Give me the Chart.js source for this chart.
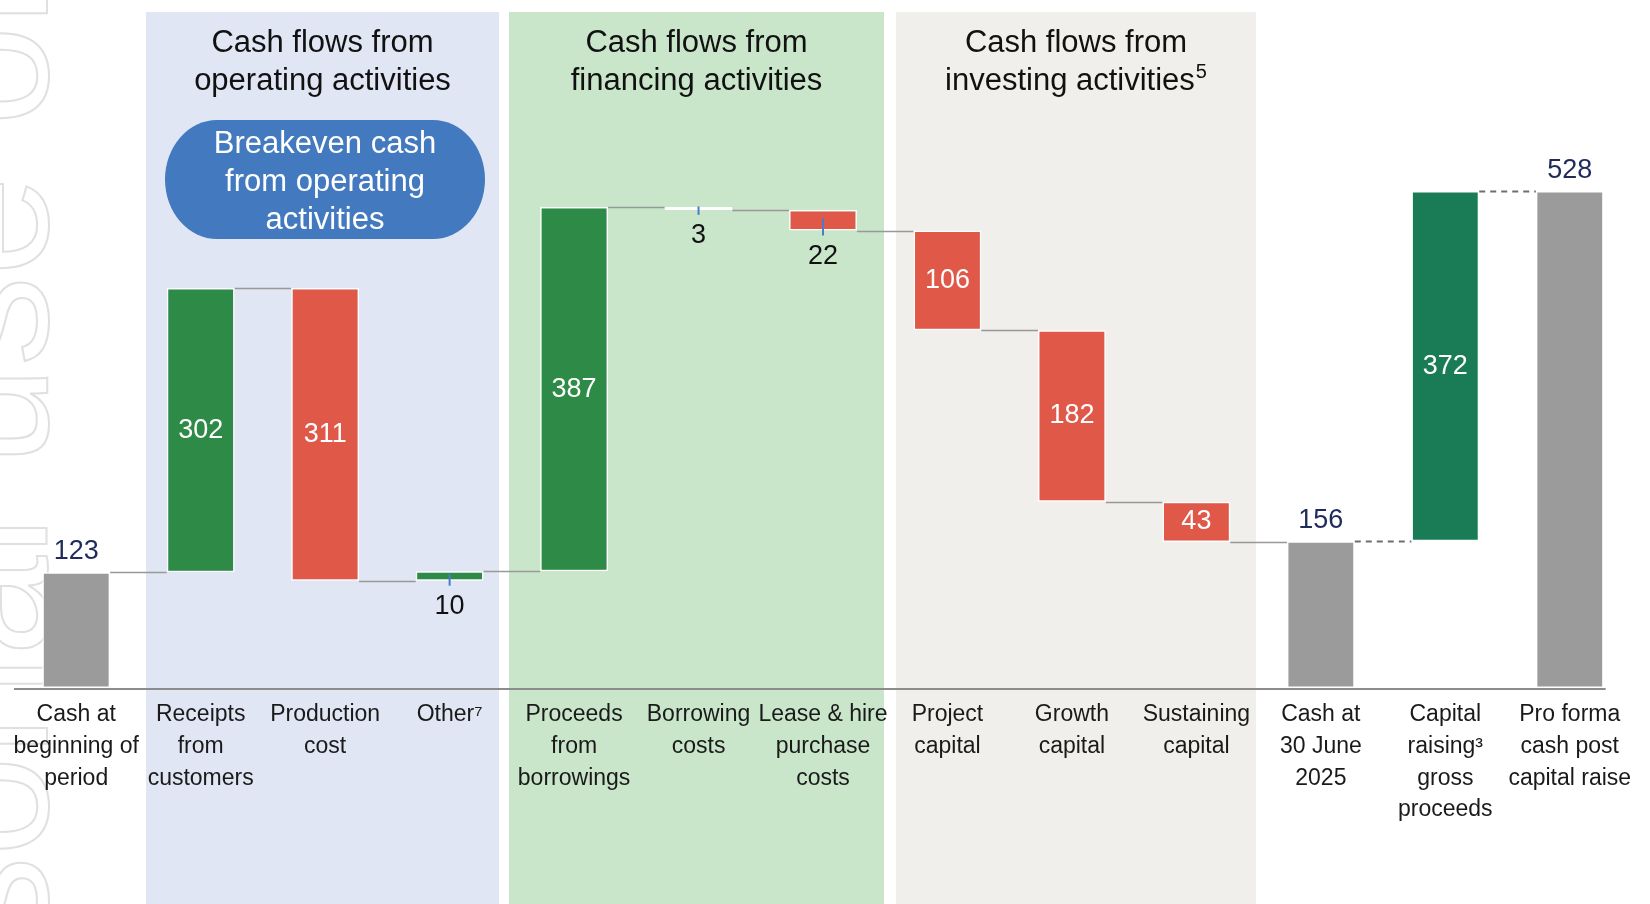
<!DOCTYPE html>
<html>
<head>
<meta charset="utf-8">
<script src="https://cdn.jsdelivr.net/npm/chart.js@4.4.0/dist/chart.umd.min.js"></script>
<style>
  html, body { margin: 0; padding: 0; background: #ffffff; }
  #wrap { width: 1650px; height: 904px; position: relative; }
  canvas { display: block; }
</style>
</head>
<body>
<div id="wrap"><canvas id="chart" width="1650" height="904"></canvas></div>
<script>
// ---------------- DATA ----------------
const categories = [
  ["Cash at", "beginning of", "period"],
  ["Receipts", "from", "customers"],
  ["Production", "cost"],
  ["Other\u2077"],
  ["Proceeds", "from", "borrowings"],
  ["Borrowing", "costs"],
  ["Lease & hire", "purchase", "costs"],
  ["Project", "capital"],
  ["Growth", "capital"],
  ["Sustaining", "capital"],
  ["Cash at", "30 June", "2025"],
  ["Capital", "raising\u00B3", "gross", "proceeds"],
  ["Pro forma", "cash post", "capital raise"]
];
const changes = [123, 302, -311, 10, 387, -3, -22, -106, -182, -43, 156, 372, 528];
const barTypes = ["total", "increase", "decrease", "increase", "increase", "decrease",
                  "decrease", "decrease", "decrease", "decrease", "total", "raise", "total"];
const sectionTitles = [
  ["Cash flows from", "operating activities"],
  ["Cash flows from", "financing activities"],
  ["Cash flows from", "investing activities"]
];
const sectionSuperscripts = ["", "", "5"];
const calloutLines = ["Breakeven cash", "from operating", "activities"];
const watermarkText = "For personal use only";

// ---------------- DERIVED (floating bars) ----------------
const floating = [];
let running = 0;
changes.forEach((v, i) => {
  if (barTypes[i] === "total") { floating.push([0, v]); running = v; }
  else { floating.push([running, running + v]); running += v; }
});

// ---------------- STYLE ----------------
const FONT = "'Liberation Sans', Arial, Helvetica, sans-serif";
const typeColors = { total: "#9B9B9B", increase: "#2E8B47", decrease: "#E05848", raise: "#1A7C57" };
const bands = [
  { x0: 146, x1: 499, color: "#E0E6F4" },
  { x0: 509, x1: 884, color: "#C9E6CB" },
  { x0: 896, x1: 1256, color: "#F0EFEB" }
];

const decorPlugin = {
  id: "decor",
  beforeDraw(chart) {
    const ctx = chart.ctx;
    ctx.save();
    ctx.fillStyle = "#ffffff";
    ctx.fillRect(0, 0, chart.width, chart.height);
    // bands
    bands.forEach(b => { ctx.fillStyle = b.color; ctx.fillRect(b.x0, 12, b.x1 - b.x0, chart.height - 12); });
    // watermark
    ctx.font = "180px " + FONT;
    const wPre = ctx.measureText("For personal ").width;
    ctx.translate(47, 466 + wPre);
    ctx.rotate(-Math.PI / 2);
    ctx.strokeStyle = "#E0E0E0";
    ctx.lineWidth = 2;
    ctx.textAlign = "left";
    ctx.textBaseline = "alphabetic";
    ctx.strokeText(watermarkText, 0, 0);
    ctx.restore();

    // section titles
    ctx.save();
    ctx.fillStyle = "#111111";
    ctx.textBaseline = "middle";
    sectionTitles.forEach((lines, k) => {
      const cx = (bands[k].x0 + bands[k].x1) / 2;
      lines.forEach((t, j) => {
        const y = 43 + j * 38;
        ctx.font = "31px " + FONT;
        const sup = (j === lines.length - 1) ? sectionSuperscripts[k] : "";
        const wMain = ctx.measureText(t).width;
        ctx.font = "20px " + FONT;
        const wSup = sup ? ctx.measureText(sup).width + 1 : 0;
        const x0 = cx - (wMain + wSup) / 2;
        ctx.font = "31px " + FONT;
        ctx.textAlign = "left";
        ctx.fillText(t, x0, y);
        if (sup) { ctx.font = "20px " + FONT; ctx.fillText(sup, x0 + wMain + 1, y - 9); }
      });
    });
    // callout bubble
    const bx0 = 165, bx1 = 485, by0 = 120, by1 = 239, rx = 52;
    const ry = (by1 - by0) / 2, cy = (by0 + by1) / 2;
    ctx.beginPath();
    ctx.moveTo(bx0 + rx, by0);
    ctx.lineTo(bx1 - rx, by0);
    ctx.ellipse(bx1 - rx, cy, rx, ry, 0, -Math.PI / 2, Math.PI / 2);
    ctx.lineTo(bx0 + rx, by1);
    ctx.ellipse(bx0 + rx, cy, rx, ry, 0, Math.PI / 2, Math.PI * 1.5);
    ctx.closePath();
    ctx.fillStyle = "#4279BF";
    ctx.fill();
    ctx.fillStyle = "#ffffff";
    ctx.font = "31px " + FONT;
    ctx.textAlign = "center";
    calloutLines.forEach((t, j) => ctx.fillText(t, (bx0 + bx1) / 2, 144 + j * 38));
    ctx.restore();
  },
  beforeDatasetsDraw(chart) {
    const ctx = chart.ctx;
    const meta = chart.getDatasetMeta(0).data;
    ctx.save();
    for (let i = 0; i < meta.length - 1; i++) {
      const a = meta[i], b = meta[i + 1];
      const level = floating[i][1];
      const y = Math.round(chart.scales.y.getPixelForValue(level)) + 0.5;
      const dashed = i >= 10;
      ctx.beginPath();
      ctx.setLineDash(dashed ? [6, 5] : []);
      ctx.strokeStyle = dashed ? "#6E6E6E" : "#999999";
      ctx.lineWidth = dashed ? 2 : 1.5;
      ctx.moveTo(a.x + a.width / 2, y);
      ctx.lineTo(b.x - b.width / 2, y);
      ctx.stroke();
    }
    ctx.restore();
  },
  afterDatasetsDraw(chart) {
    const ctx = chart.ctx;
    const meta = chart.getDatasetMeta(0).data;
    const yb = chart.scales.y.getPixelForValue(0);
    ctx.save();
    // axis line
    const last = meta[meta.length - 1];
    ctx.strokeStyle = "#8C8C8C";
    ctx.lineWidth = 2;
    ctx.beginPath();
    ctx.moveTo(chart.chartArea.left, yb + 1);
    ctx.lineTo(last.x + last.width / 2 + 2, yb + 1);
    ctx.stroke();
    // value labels
    ctx.font = "27px " + FONT;
    ctx.textAlign = "center";
    ctx.textBaseline = "middle";
    meta.forEach((el, i) => {
      const v = Math.abs(changes[i]);
      const top = Math.min(el.y, el.base), bot = Math.max(el.y, el.base);
      if (barTypes[i] === "total") {
        ctx.fillStyle = "#1F2B5B";
        ctx.fillText(String(v), el.x, top - 21);
      } else if (bot - top < 30) {
        ctx.strokeStyle = "#4A7DC9";
        ctx.lineWidth = 2;
        ctx.beginPath();
        ctx.moveTo(el.x, (top + bot) / 2 - 2);
        ctx.lineTo(el.x, bot + 5);
        ctx.stroke();
        ctx.fillStyle = "#111111";
        ctx.fillText(String(v), el.x, bot + 26);
      } else {
        ctx.fillStyle = "#ffffff";
        ctx.fillText(String(v), el.x, (top + bot) / 2);
      }
    });
    ctx.restore();
  }
};

new Chart(document.getElementById("chart"), {
  type: "bar",
  data: {
    labels: categories,
    datasets: [{
      data: floating,
      backgroundColor: barTypes.map(t => typeColors[t]),
      borderColor: "#ffffff",
      borderWidth: 1.5,
      borderSkipped: false,
      barPercentage: 0.545,
      categoryPercentage: 1.0
    }]
  },
  options: {
    responsive: false,
    animation: false,
    layout: { padding: { left: 14, right: 18, top: 0, bottom: 0 } },
    plugins: { legend: { display: false }, tooltip: { enabled: false } },
    scales: {
      x: {
        grid: { display: false, drawTicks: false },
        border: { display: false },
        ticks: {
          autoSkip: false, maxRotation: 0, minRotation: 0, padding: 11,
          color: "#1a1a1a",
          font: { family: FONT, size: 23, lineHeight: 1.38 }
        },
        afterFit(scale) { scale.height = 216; }
      },
      y: { display: false, min: 0, max: 731 }
    }
  },
  plugins: [decorPlugin]
});
</script>
</body>
</html>
